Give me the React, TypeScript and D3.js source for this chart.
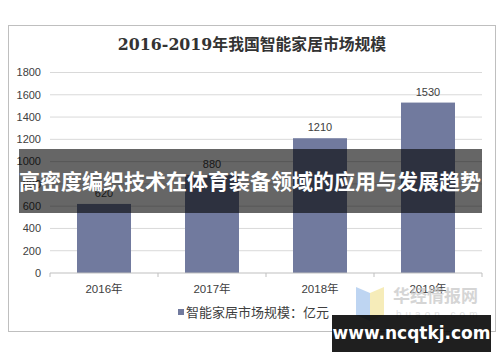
import React from 'react';
import * as d3 from 'd3';

const years = ['2016年', '2017年', '2018年', '2019年'];
const marketSize = [620, 880, 1210, 1530];
const yTicks = [0, 200, 400, 600, 800, 1000, 1200, 1400, 1600, 1800];

const title = '2016-2019年我国智能家居市场规模';
const legendLabel = '智能家居市场规模：亿元';
const bannerText = '高密度编织技术在体育装备领域的应用与发展趋势';

export default function App() {
  const width = 500;
  const height = 362;
  const margin = { top: 72.5, bottom: 89, left: 50, right: 18 };

  // category bands across the plot
  const x = d3.scaleBand()
    .domain(years)
    .range([margin.left, width - margin.right])
    .paddingInner(0.5)
    .paddingOuter(0.25);

  const band = d3.scaleBand()
    .domain(years)
    .range([margin.left, width - margin.right]);

  const y = d3.scaleLinear()
    .domain([0, 1800])
    .range([height - margin.bottom, margin.top]);

  const barColor = '#717a9e';
  const font = 'Liberation Sans, Arial, Noto Sans CJK SC, sans-serif';

  return (
    <svg width={width} height={height} style={{ position: 'absolute', left: 0, top: 0 }}>
      <rect x={0} y={0} width={width} height={height} fill="#fff" />
      {/* chart frame */}
      <rect x={8.5} y={25.5} width={487} height={306} fill="#fff" stroke="#bfbfbf" />
      <text x={252} y={50} textAnchor="middle" fontSize={15.8} fontWeight="bold"
        fontFamily="DejaVu Serif, Noto Sans CJK SC, serif" fill="#333">{title}</text>

      {/* gridlines + y labels */}
      {yTicks.map(t => (
        <g key={t}>
          {t > 0 && <line x1={margin.left} x2={width - margin.right} y1={y(t)} y2={y(t)} stroke="#d9d9d9" />}
          <text x={41} y={y(t)} dy="0.35em" textAnchor="end" fontSize={11} fontFamily={font} fill="#404040">{t}</text>
        </g>
      ))}

      {/* bars */}
      {marketSize.map((v, i) => (
        <g key={years[i]}>
          <rect x={x(years[i])} y={y(v)} width={x.bandwidth()} height={y(0) - y(v)} fill={barColor} />
          <text x={x(years[i])! + x.bandwidth() / 2} y={y(v) - 7} textAnchor="middle"
            fontSize={11} fontFamily={font} fill="#404040">{v}</text>
        </g>
      ))}

      {/* x axis */}
      <line x1={margin.left} x2={width - margin.right} y1={y(0)} y2={y(0)} stroke="#bfbfbf" />
      {[...years.map(c => band(c)!), width - margin.right].map((t, i) => (
        <line key={i} x1={t} x2={t} y1={y(0)} y2={y(0) + 4} stroke="#bfbfbf" />
      ))}
      {years.map(c => (
        <text key={c} x={band(c)! + band.bandwidth() / 2} y={293} textAnchor="middle"
          fontSize={11.5} fontFamily={font} fill="#404040">{c}</text>
      ))}

      {/* legend */}
      <rect x={178} y={309} width={6} height={6} fill={barColor} />
      <text x={186} y={317} fontSize={13} fontFamily={font} fill="#404040">{legendLabel}</text>

      {/* watermark logo */}
      <g opacity={0.75}>
        <polygon points="356,287 370,293 370,321 356,315" fill="#a9c8ee" />
        <polygon points="370,293 384,287 384,315 370,321" fill="#f3e6a2" />
        <text x={393} y={302} fontSize={17} fontWeight="bold" fontFamily="Noto Sans CJK SC, sans-serif" fill="#c8c8c8">华经情报网</text>
        <text x={396} y={318} fontSize={10} letterSpacing={4} fontFamily={font} fill="#d8d8d8">huaon.com</text>
      </g>

      {/* overlay banner */}
      <rect x={19} y={149} width={463} height={64} fill="rgba(0,0,0,0.6)" />
      <text x={250} y={189} textAnchor="middle" fontSize={21} fontWeight="bold"
        fontFamily="Noto Sans CJK SC, sans-serif" fill="#fff">{bannerText}</text>

      {/* site badge */}
      <rect x={332} y={315} width={159} height={37} fill="rgba(0,0,0,0.88)" />
      <text x={411.5} y={339} textAnchor="middle" fontSize={17} fontWeight="bold"
        fontFamily="DejaVu Sans, sans-serif" fill="#fff">www.ncqtkj.com</text>
    </svg>
  );
}
